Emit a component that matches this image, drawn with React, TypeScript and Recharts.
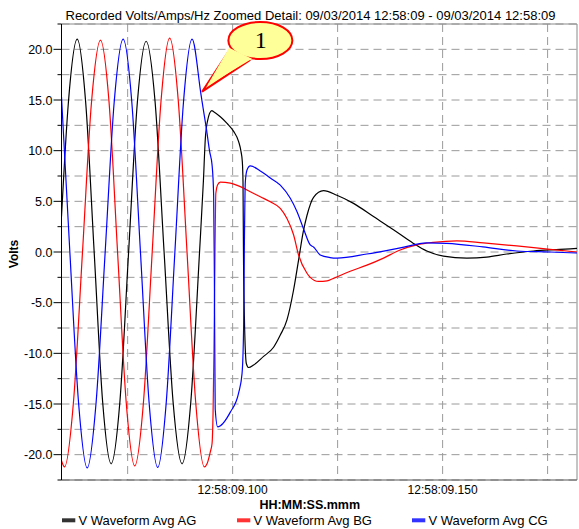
import React from 'react';
import {
  LineChart,
  Line,
  XAxis,
  YAxis,
  CartesianGrid,
  ReferenceLine,
  ReferenceDot,
} from 'recharts';

// ---------- text ----------
const titleText =
  'Recorded Volts/Amps/Hz Zoomed Detail: 09/03/2014 12:58:09 - 09/03/2014 12:58:09';
const xAxisTitle = 'HH:MM:SS.mmm';
const yAxisTitle = 'Volts';

// ---------- axes (time in ms after 12:58:09.000) ----------
const xDomain = [59.25, 182];
const xTicks = [75, 100, 125, 150, 175];
const xTickLabels = ['', '12:58:09.100', '', '12:58:09.150', ''];
const yDomain = [-22.5, 22.5];
const yTicks = [
  -22.5, -20, -17.5, -15, -12.5, -10, -7.5, -5, -2.5, 0, 2.5, 5, 7.5, 10, 12.5, 15, 17.5, 20, 22.5,
];

// ---------- series ----------
const seriesNames = ['V Waveform Avg AG', 'V Waveform Avg BG', 'V Waveform Avg CG'];
const seriesColors = ['#000000', '#ff0000', '#0000ff'];

// [time ms, volts]
const agPoints = [
  [59.25, 3.5], [60.9, 14.8], [62.99, 21.0], [65.0, 14.8], [67.03, 0], [69.05, -14.8],
  [71.07, -20.9], [73.15, -14.8], [75.23, 0], [77.32, 14.8], [79.4, 20.8], [81.54, 14.8],
  [83.68, 0], [85.82, -14.8], [87.96, -20.9], [90.04, -14.8], [92.12, 0], [93.04, 7.0],
  [93.5, 11.2], [94.0, 12.9], [95.04, 13.95], [95.48, 13.85], [97.07, 13.35], [98.67, 12.7],
  [100.24, 11.9], [101.43, 10.9], [102.0, 9.9], [102.31, 8.9], [102.47, 6.9], [102.62, -2.3],
  [103.26, -11.0], [103.81, -11.4], [105.0, -11.15], [107.37, -10.3], [109.75, -9.4],
  [111.35, -8.2], [112.94, -6.7], [114.51, -3.75], [115.7, -0.8], [116.82, 2.0], [117.7, 3.6],
  [119.27, 5.4], [121.65, 6.05], [124.83, 5.6], [128.78, 4.8], [133.54, 3.5], [138.3, 2.2],
  [143.05, 0.85], [146.24, 0.1], [150.19, -0.4], [155.76, -0.6], [160.51, -0.5], [165.27, -0.2],
  [171.6, 0.1], [177.95, 0.25], [182.0, 0.35],
];

const bgPoints = [
  [59.25, -20.6], [59.97, -21.2], [62.1, -14.8], [64.25, 0], [66.4, 14.8], [68.53, 20.9],
  [70.57, 14.8], [72.6, 0], [74.65, -14.8], [76.69, -21.1], [78.77, -14.8], [80.85, 0],
  [82.93, 14.8], [85.01, 21.1], [87.08, 14.8], [89.14, 0], [91.2, -14.8], [93.27, -21.2],
  [93.91, -20.9], [94.7, -19.7], [95.1, -18.9], [95.34, -15.9], [95.55, -10], [95.8, 0],
  [96.0, 5.8], [96.4, 6.6], [97.07, 6.9], [99.45, 6.8], [101.83, 6.45], [104.21, 5.95],
  [106.59, 5.45], [108.97, 4.95], [111.35, 4.3], [112.94, 3.3], [114.51, 1.7], [115.7, -0.3],
  [117.7, -2.1], [118.48, -2.5], [120.46, -2.9], [122.5, -2.85], [124.02, -2.6], [128.0, -1.9],
  [131.97, -1.3], [135.92, -0.6], [139.9, 0.2], [143.86, 0.7], [147.81, 0.95], [153.38, 1.1],
  [159.71, 0.9], [167.65, 0.6], [175.57, 0.25], [182.0, 0.0],
];

const cgPoints = [
  [59.25, 15.3], [61.24, 0], [63.3, -14.8], [65.37, -21.3], [67.5, -14.8], [69.65, 0],
  [71.8, 14.8], [73.93, 21.0], [75.99, 14.8], [78.05, 0], [80.1, -14.8], [82.16, -21.25],
  [84.2, -14.8], [86.25, 0], [88.3, 14.8], [90.34, 21.0], [92.48, 15.5], [93.1, 13.85],
  [93.74, 12.2], [94.53, 9.9], [95.1, 8.6], [95.48, 5.6], [95.65, -2.3], [95.85, -15.5],
  [96.43, -17.25], [99.45, -15.8], [101.43, -13.9], [102.24, -12.0], [102.62, -7.4],
  [102.78, 0], [103.02, 6.9], [103.42, 8.1], [104.21, 8.5], [106.59, 8.0], [108.97, 7.3],
  [111.35, 6.6], [113.73, 5.3], [115.31, 4.0], [116.88, 2.3], [118.48, 0.7], [119.27, 0.5],
  [120.86, -0.3], [123.2, -0.55], [124.83, -0.6], [131.97, -0.2], [139.9, 0.4], [146.24, 0.9],
  [151.0, 0.85], [159.63, 0.5], [167.65, 0.1], [175.57, 0.0], [182.0, -0.1],
];

// callout "1" anchored on the CG trace
const calloutPoint = { t: 92.72, v: 15.82, label: '1' };

const toData = (pts: number[][]) => pts.map(([t, v]) => ({ t, v }));
const seriesData = [toData(agPoints), toData(bgPoints), toData(cgPoints)];

const FONT = '"Liberation Sans", Arial, sans-serif';

const YTick = (props: any) => {
  const { x, y, payload } = props;
  const v = payload.value as number;
  const major = Math.abs(v % 5) < 1e-6;
  return (
    <g>
      <line x1={x - (major ? 8 : 4)} x2={x} y1={y} y2={y} stroke="#000" strokeWidth={1} />
      {major && (
        <text
          x={x - 9}
          y={y}
          dy={4.5}
          textAnchor="end"
          fontSize={12.5}
          fontFamily={FONT}
          fill="#000"
        >
          {v.toFixed(1)}
        </text>
      )}
    </g>
  );
};

const Callout = (props: any) => {
  const { cx, cy, label } = props;
  if (cx == null || cy == null) return null;
  const ex = cx + 58.3;
  const ey = cy - 51.2;
  const tail = `M ${cx} ${cy} L ${cx + 27} ${cy - 41} L ${cx + 47} ${cy - 31} Z`;
  const tailInner = `M ${cx + 5} ${cy - 6} L ${cx + 27} ${cy - 44} L ${cx + 50} ${cy - 33} Z`;
  return (
    <g>
      <path d={tail} fill="#ffff99" stroke="#ff0000" strokeWidth={2} strokeLinejoin="miter" />
      <ellipse cx={ex} cy={ey} rx={32} ry={18.5} fill="#ffff99" stroke="#ff0000" strokeWidth={2} />
      <path d={tailInner} fill="#ffff99" stroke="none" />
      <text
        x={cx + 58.8}
        y={cy - 43.4}
        textAnchor="middle"
        fontSize={24}
        fontFamily='"Liberation Serif", "Times New Roman", serif'
        fill="#000"
      >
        {label}
      </text>
    </g>
  );
};

export default function App() {
  return (
    <div
      style={{
        position: 'absolute',
        left: 0,
        top: 0,
        width: 579,
        height: 529,
        background: '#fff',
        overflow: 'hidden',
      }}
    >
      {/* title / legend layer (behind the chart so the callout covers the title) */}
      <svg width={579} height={529} style={{ position: 'absolute', left: 0, top: 0 }}>
        <text x={310.5} y={20} textAnchor="middle" fontSize={13} fontFamily={FONT} fill="#000">
          {titleText}
        </text>
        <text
          x={0}
          y={0}
          transform="translate(17.5 254) rotate(-90)"
          textAnchor="middle"
          fontSize={12}
          fontWeight="bold"
          fontFamily={FONT}
          fill="#000"
        >
          {yAxisTitle}
        </text>
        {seriesNames.map((name, i) => (
          <g key={name}>
            <rect
              x={62 + i * 175}
              y={518.3}
              width={13.3}
              height={4}
              fill={seriesColors[i]}
              opacity={0.8}
            />
            <text x={78.5 + i * 175} y={524.8} fontSize={13} fontFamily={FONT} fill="#000">
              {name}
            </text>
          </g>
        ))}
      </svg>
      <div style={{ position: 'absolute', left: 0, top: 0 }}>
        <LineChart
          width={579}
          height={529}
          margin={{ top: 24, right: 2, bottom: 0, left: 0 }}
          style={{ fontFamily: FONT }}
        >
          <CartesianGrid
            stroke="#9a9a9a"
            strokeDasharray="8 5"
            strokeWidth={1}
            horizontalValues={yTicks}
            verticalValues={xTicks}
          />
          <XAxis
            type="number"
            dataKey="t"
            domain={xDomain}
            ticks={xTicks}
            interval={0}
            allowDataOverflow
            tickFormatter={(v: number) => xTickLabels[xTicks.indexOf(v)] ?? ''}
            tickLine={false}
            tickSize={0}
            tickMargin={5.5}
            height={49}
            axisLine={{ stroke: '#555', strokeWidth: 1 }}
            tick={{ fontSize: 12, fill: '#000', fontFamily: FONT }}
            label={{
              content: (p: any) => {
                const vb = p.viewBox || { x: 61.5, y: 480, width: 515.5 };
                return (
                  <text
                    x={vb.x + vb.width / 2 - 9.5}
                    y={vb.y + 28.5}
                    textAnchor="middle"
                    fontSize={12.5}
                    fontWeight="bold"
                    fontFamily={FONT}
                    fill="#000"
                  >
                    {xAxisTitle}
                  </text>
                );
              },
            }}
          />
          <YAxis
            type="number"
            domain={yDomain}
            ticks={yTicks}
            interval={0}
            allowDataOverflow
            width={61.5}
            tickLine={false}
            tickSize={0}
            tickMargin={0}
            axisLine={{ stroke: '#000', strokeWidth: 1 }}
            tick={<YTick />}
          />
          <ReferenceLine y={yDomain[1]} stroke="#8a8a8a" strokeWidth={1} />
          <ReferenceLine x={xDomain[1]} stroke="#8a8a8a" strokeWidth={1} />
          {seriesData.map((d, i) => (
            <Line
              key={seriesNames[i]}
              data={d}
              dataKey="v"
              name={seriesNames[i]}
              type="monotone"
              stroke={seriesColors[i]}
              strokeWidth={1.2}
              dot={false}
              activeDot={false}
              isAnimationActive={false}
            />
          ))}
          <ReferenceDot
            x={calloutPoint.t}
            y={calloutPoint.v}
            r={0}
            shape={(p: any) => <Callout {...p} label={calloutPoint.label} />}
          />
        </LineChart>
      </div>
    </div>
  );
}
